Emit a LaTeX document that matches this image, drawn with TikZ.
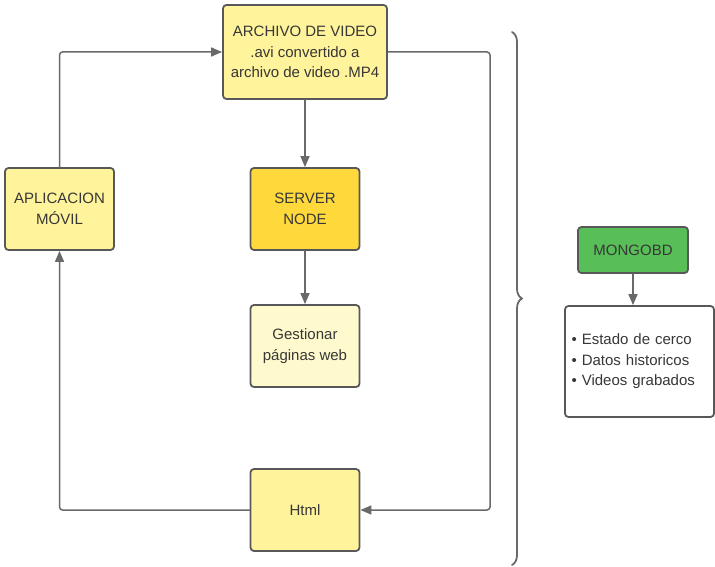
\documentclass[tikz,border=0pt]{standalone}
\usepackage{fontspec}
\setmainfont{Liberation Sans}
\usetikzlibrary{positioning, arrows.meta, decorations.pathreplacing}

\begin{document}
\begin{tikzpicture}[x=1pt, y=-1pt, line join=round, line cap=round,
    box/.style={draw=boxline, line width=1.8pt, rounded corners=3.5pt,
        align=center, text=textgray, inner sep=2pt,
        minimum width=109pt, minimum height=82pt,
        font=\fontsize{15}{20.5}\selectfont},
    link/.style={draw=linegray, line width=1.5pt, rounded corners=3pt,
        -{Triangle[length=11pt, width=9pt]}}]
\definecolor{boxline}{RGB}{88,88,88}
\definecolor{linegray}{RGB}{105,105,105}
\definecolor{textgray}{RGB}{55,55,55}
\definecolor{paleyellow}{RGB}{255,243,155}
\definecolor{serveryellow}{RGB}{255,216,60}
\definecolor{creamyellow}{RGB}{255,250,205}
\definecolor{dbgreen}{RGB}{88,190,88}

\useasboundingbox (0,0) rectangle (715,567);

% main flow
\node[box, fill=paleyellow, minimum width=164pt, minimum height=94pt] (video)
    at (305,52) {ARCHIVO DE VIDEO\\.avi convertido a\\archivo de video .MP4};
\node[box, fill=paleyellow] (app) at (59.5,209) {APLICACION\\MÓVIL};
\node[box, fill=serveryellow] (server) at (305,209) {SERVER\\NODE};
\node[box, fill=creamyellow] (pages) at (305,346) {Gestionar\\páginas web};
\node[box, fill=paleyellow] (html) at (305,510) {Html};

\coordinate (rturn) at (490,510);
\coordinate (lturn) at (app.south |- html.west);

\draw[link] (video) -- (server);
\draw[link] (server) -- (pages);
\draw[link] (video.east) -| (rturn) -- (html.east);
\draw[link] (html.west) -- (lturn) -- (app.south);
\draw[link] (app.north) |- (video.west);

% brace
\draw[decorate, decoration={brace, amplitude=10pt}, linegray, line width=1.8pt]
    (512,32) -- (512,565);

% database
\node[box, fill=dbgreen, minimum width=110pt, minimum height=46pt] (mongo)
    at (633,250) {MONGOBD};
\node[box, fill=white, minimum width=149pt, minimum height=111pt,
    text width=136pt, align=left] (data) at (639.5,361.5)
    {• Estado de cerco\\• Datos historicos\\• Videos grabados};
\draw[link] (mongo.south) -- (mongo.south |- data.north);
\end{tikzpicture}
\end{document}
